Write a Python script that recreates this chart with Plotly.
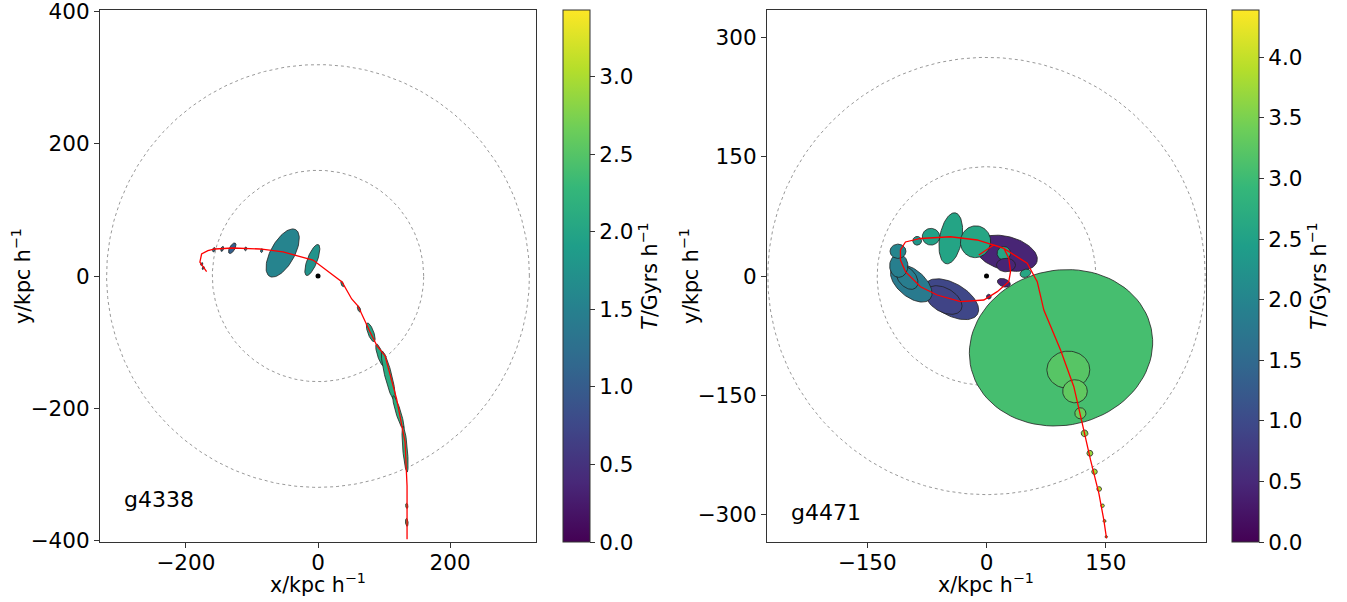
import numpy as np
import plotly.graph_objects as go
from plotly.colors import sample_colorscale

# ---------------- data: g4338 (left) ----------------
L_cx = [-53.5, -8.6, -129.8, -157.6, -145.0, -109.6, -85.3, -176.0, -173.7,
        36.8, 62.1, 79.8, 94.0, 106.5, 121.7, 131.8, 134.4, 134.4]
L_cy = [34.8, 24.2, 42.0, 39.8, 41.0, 41.0, 38.4, 18.0, 12.0,
        -12.1, -50.0, -85.3, -119.7, -151.0, -206.6, -262.0, -348.0, -373.0]
L_w = [81, 50, 18, 7, 8, 6, 6, 5, 5, 9, 10, 30, 35, 77, 53, 70, 8, 12]
L_h = [36, 15, 8, 4, 4, 3.5, 3.5, 3, 3, 3.5, 4, 9, 8, 10.6, 7.6, 7, 3.5, 4]
L_ang = [61, 69, 60, 70, 70, 80, 80, 60, 60, 110, 110, 110, 108, 104, 107, 95, 95, 95]
L_T = [1.55, 1.75, 1.05, 1.2, 1.2, 1.3, 1.3, 1.1, 1.1,
       1.9, 1.9, 2.0, 2.05, 2.1, 2.15, 2.2, 2.3, 2.35]
L_path_x = [-168.6, -178.8, -176.2, -166.7, -156.0, -128.8, -87.9, -53.0, -7.6,
            36.4, 51.0, 60.6, 78.8, 89.4, 101.5, 119.0, 131.8, 134.8, 134.8]
L_path_y = [6.5, 21.2, 33.3, 38.3, 40.9, 42.4, 40.9, 36.4, 24.2,
            -9.1, -34.8, -45.5, -84.8, -106.0, -121.0, -186.0, -251.5, -318.0, -398.5]
L_radii = [160, 320]
L_Tmax = 3.43
L_name = "g4338"

# ---------------- data: g4471 (right) ----------------
R_cx = [-44.3, -53.7, -94.6, -100.0, -110.3, -111.3, -87.2, -69.8, -44.9,
        24.9, -13.8, 21.8, 24.5, 21.8, 49.0, 2.9,
        93.7, 102.9, 111.3, 118.0, 123.3, 130.0, 135.8, 141.7, 145.9, 148.4, 150.6]
R_cy = [-29.2, -30.2, -9.0, -2.0, 12.8, 31.1, 44.3, 49.4, 47.4,
        28.6, 43.1, 28.6, 13.8, -8.6, 3.4, -26.0,
        -90.3, -118.0, -145.0, -172.7, -197.9, -223.0, -246.2, -267.9, -288.9, -308.2, -328.0]
R_w = [76, 50, 62, 34, 29, 20, 11, 22, 65,
       80, 40, 17, 24, 17, 14, 6,
       232, 54, 31, 14, 8.5, 7.5, 7, 6, 4.6, 3.8, 3.2]
R_h = [40, 30, 34, 22, 23, 18, 11, 21, 28,
       42, 38, 17, 17, 10, 10, 6,
       195, 47, 29, 14, 8.5, 7.5, 7, 6, 4.6, 3.8, 3.2]
R_ang = [-30, -30, -40, -50, 90, 0, 0, 0, 80,
         -15, 80, 0, 0, -20, 20, 0,
         12, 0, 0, 0, 0, 0, 0, 0, 0, 0, 0]
R_T = [0.95, 0.9, 1.8, 1.85, 1.9, 2.0, 2.3, 2.5, 2.55,
       0.45, 2.6, 2.6, 0.45, 0.45, 2.6, 0.5,
       3.07, 3.22, 3.3, 3.4, 3.6, 3.7, 3.8, 3.9, 4.0, 4.1, 4.2]
R_path_x = [150.9, 147.5, 141.3, 130.8, 120.4, 109.8, 93.1, 72.1, 63.8, 51.2, 21.8,
            9.2, -11.7, -45.3, -83.0, -101.9, -108.2, -108.2, -101.9, -83.0, -62.0,
            -32.7, -3.4, 13.5, 28.0, 30.2, 28.0, 21.8, 9.2, -9.7]
R_path_y = [-329.9, -306.9, -273.3, -231.4, -185.3, -139.2, -93.1, -42.8, -7.2, 16.0, 34.8,
            39.0, 45.3, 49.4, 47.2, 42.8, 32.7, 20.1, 5.4, -13.5, -23.9,
            -32.3, -30.2, -19.7, -7.2, 5.4, 22.3, 34.8, 39.0, 26.4]
R_radii = [137.5, 275]
R_Tmax = 4.39
R_name = "g4471"

X_TITLE = "x/kpc h<sup>−1</sup>"
Y_TITLE = "y/kpc h<sup>−1</sup>"
CB_TITLE = "<i>T</i>/Gyrs h<sup>−1</sup>"

W, H = 1347, 602
FONT = "DejaVu Sans"
TFS = 21.5   # tick labels
LFS = 20.5   # axis / colorbar titles
AFS = 22     # panel labels


def ellipse_xy(cx, cy, w, h, ang, n=90):
    t = np.linspace(0, 2 * np.pi, n)
    a = np.deg2rad(ang)
    ex = cx + w / 2 * np.cos(t) * np.cos(a) - h / 2 * np.sin(t) * np.sin(a)
    ey = cy + w / 2 * np.cos(t) * np.sin(a) + h / 2 * np.sin(t) * np.cos(a)
    return ex, ey


fig = go.Figure()


def add_panel(sfx, cx, cy, w, h, ang, T, px, py, radii, tmax, cbx):
    xa, ya = "x" + sfx, "y" + sfx
    for r in radii:
        t = np.linspace(0, 2 * np.pi, 400)
        fig.add_trace(go.Scatter(x=r * np.cos(t), y=r * np.sin(t), mode="lines",
                                 line=dict(color="#999999", width=1, dash="dot"),
                                 xaxis=xa, yaxis=ya, showlegend=False, hoverinfo="skip"))
    cols = sample_colorscale("Viridis", [v / tmax for v in T])
    for i in range(len(cx)):
        ex, ey = ellipse_xy(cx[i], cy[i], w[i], h[i], ang[i])
        fig.add_trace(go.Scatter(x=ex, y=ey, mode="lines", fill="toself",
                                 fillcolor=cols[i], line=dict(color="#222222", width=0.8),
                                 xaxis=xa, yaxis=ya, showlegend=False, hoverinfo="skip"))
    fig.add_trace(go.Scatter(x=px, y=py, mode="lines", line=dict(color="red", width=1.3),
                             xaxis=xa, yaxis=ya, showlegend=False, hoverinfo="skip"))
    fig.add_trace(go.Scatter(x=[0], y=[0], mode="markers",
                             marker=dict(color="black", size=5),
                             xaxis=xa, yaxis=ya, showlegend=False, hoverinfo="skip"))
    fig.add_trace(go.Scatter(
        x=[0], y=[0], mode="markers", xaxis=xa, yaxis=ya, showlegend=False, hoverinfo="skip",
        marker=dict(size=0.1, opacity=0, color=[0], colorscale="Viridis", cmin=0, cmax=tmax,
                    showscale=True,
                    colorbar=dict(x=cbx / W, xanchor="left", y=(H - 276) / H, yanchor="middle",
                                  len=532 / H, lenmode="fraction", thickness=27,
                                  thicknessmode="pixels", xpad=0, ypad=0,
                                  outlinewidth=1, outlinecolor="#333333",
                                  ticks="outside", ticklen=5, tickcolor="#333333",
                                  dtick=0.5, tickformat=".1f",
                                  tickfont=dict(size=TFS, family=FONT, color="black"),
                                  title=dict(text=CB_TITLE, side="right",
                                             font=dict(size=LFS, family=FONT, color="black"))))))


add_panel("", L_cx, L_cy, L_w, L_h, L_ang, L_T, L_path_x, L_path_y, L_radii, L_Tmax, 563)
add_panel("2", R_cx, R_cy, R_w, R_h, R_ang, R_T, R_path_x, R_path_y, R_radii, R_Tmax, 1232)

ydom = [1 - 542 / H, 1 - 10 / H]
ax_common = dict(showline=True, mirror=True, linecolor="#333333", linewidth=1.2,
                 ticks="outside", ticklen=5, tickcolor="#333333", showgrid=False,
                 zeroline=False, ticklabeloverflow="allow", automargin=False,
                 tickfont=dict(size=TFS, family=FONT, color="black"))
xax_extra = dict(ticklabelstandoff=-4)
tfont = dict(size=LFS, family=FONT, color="black")


def paper_text(text, px, py, angle=0, size=LFS):
    return dict(text=text, xref="paper", yref="paper", x=px / W, y=1 - py / H,
                xanchor="center", yanchor="middle", textangle=angle, showarrow=False,
                font=dict(size=size, family=FONT, color="black"))


fig.update_layout(
    width=W, height=H, margin=dict(l=0, r=0, t=0, b=0, autoexpand=False),
    plot_bgcolor="white", paper_bgcolor="white", showlegend=False,
    font=dict(family=FONT, size=20, color="black"),
    xaxis=dict(domain=[100 / W, 536 / W], range=[-330, 330], tickvals=[-200, 0, 200],
               anchor="y", **ax_common, **xax_extra),
    yaxis=dict(domain=ydom, range=[-402.7, 402.7], tickvals=[-400, -200, 0, 200, 400],
               anchor="x", **ax_common),
    xaxis2=dict(domain=[767 / W, 1206 / W], range=[-276, 276], tickvals=[-150, 0, 150],
                anchor="y2", **ax_common, **xax_extra),
    yaxis2=dict(domain=ydom, range=[-334.6, 334.6], tickvals=[-300, -150, 0, 150, 300],
                anchor="x2", **ax_common),
    annotations=[
        dict(text=L_name, xref="x domain", yref="y domain", x=0.05, y=0.079,
             xanchor="left", yanchor="middle", showarrow=False,
             font=dict(size=AFS, family=FONT, color="black")),
        dict(text=R_name, xref="x2 domain", yref="y2 domain", x=0.05, y=0.056,
             xanchor="left", yanchor="middle", showarrow=False,
             font=dict(size=AFS, family=FONT, color="black")),
        paper_text(X_TITLE, 318, 583),
        paper_text(X_TITLE, 986, 583),
        paper_text(Y_TITLE, 21, 276, angle=-90),
        paper_text(Y_TITLE, 689, 276, angle=-90),
    ],
)

fig.write_html("out.html", config={"displayModeBar": False},
               post_script="document.body.style.margin='0';document.body.style.overflow='hidden';")
